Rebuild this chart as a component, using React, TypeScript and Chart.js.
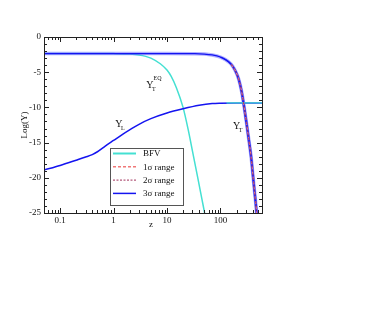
import React, { useEffect, useRef } from 'react';
import { Chart, registerables } from 'chart.js';

Chart.register(...registerables);

// ---------- data ----------
const xMajorTicks = [0.1, 1, 10, 100];
const xMinorTicks = [0.05, 0.06, 0.07, 0.08, 0.09, 0.2, 0.3, 0.4, 0.5, 0.6, 0.7, 0.8, 0.9, 2, 3, 4, 5, 6, 7, 8, 9, 20, 30, 40, 50, 60, 70, 80, 90, 200, 300, 400, 500, 600];
const yMajorTicks = [0, -5, -10, -15, -20, -25];
const yMinorTicks = [-1, -2, -3, -4, -6, -7, -8, -9, -11, -12, -13, -14, -16, -17, -18, -19, -21, -22, -23, -24];

// Y_T^EQ (BFV, cyan)
const zEq = [0.05, 0.5, 1, 2, 3, 4, 5, 7.5, 10, 12, 15, 20, 25, 30, 37, 45, 50, 55];
const yEq = [-2.35, -2.35, -2.36, -2.42, -2.55, -2.75, -3.0, -3.8, -4.7, -5.6, -7.2, -10.0, -13.2, -16.2, -19.7, -23.0, -24.8, -26.6];

// Y_T (central)
const zT = [0.05, 1, 10, 30, 50, 70, 100, 130, 160, 190, 220, 250, 280, 310, 340, 375, 420, 470, 500];
const yT = [-2.35, -2.35, -2.35, -2.37, -2.42, -2.55, -2.85, -3.3, -3.9, -4.8, -6.0, -7.8, -10.1, -12.4, -14.6, -17.0, -20.8, -24.5, -27];

// Y_T 3 sigma edges (steep part)
const zT3lo = [97, 126, 155, 184, 213, 242, 271, 300, 329, 363, 407, 455, 485];
const zT3hi = [103, 134, 165, 196, 227, 258, 289, 320, 351, 387, 433, 485, 515];
const yT3 = [-2.85, -3.3, -3.9, -4.8, -6.0, -7.8, -10.1, -12.4, -14.6, -17.0, -20.8, -24.5, -27];

// 1 sigma / 2 sigma (dashed, steep part)
const zSig = [160, 190, 220, 250, 280, 310, 340, 375, 420, 470, 500];
const ySig1 = [-3.9, -4.8, -6.0, -7.8, -10.1, -12.4, -14.6, -17.0, -20.8, -24.5, -27];
const ySig2 = [-3.9, -4.8, -6.0, -7.8, -10.1, -12.4, -14.6, -17.0, -20.8, -24.5, -27];

// Y_L
const zL = [0.05, 0.1, 0.2, 0.3, 0.4, 0.5, 0.7, 1, 1.5, 2, 3, 5, 10, 20, 40, 70, 100, 200, 600];
const yL = [-18.9, -18.25, -17.5, -17.05, -16.7, -16.3, -15.5, -14.7, -13.8, -13.2, -12.4, -11.6, -10.8, -10.2, -9.7, -9.45, -9.4, -9.38, -9.38];
const zLbfv = [130, 200, 600];
const yLbfv = [-9.37, -9.37, -9.37];

const legendLabels = ['BFV', '1σ range', '2σ range', '3σ range'];

// ---------- styles ----------
const SERIF = "'Liberation Serif', 'DejaVu Serif', serif";
const CYAN = '#44e0d2';
const BLUE = '#1414f0';
const BAND = 'rgba(110,110,255,0.55)';
const RED1 = '#f07878';
const RED2 = '#a0305a';

const pts = (xs: number[], ys: number[]) => xs.map((x, i) => ({ x, y: ys[i] }));

const line = (data: any, color: string, width: number, extra: any = {}) => ({
  data,
  borderColor: color,
  backgroundColor: color,
  borderWidth: width,
  pointRadius: 0,
  showLine: true,
  fill: false,
  cubicInterpolationMode: 'monotone',
  ...extra,
});

const decorPlugin = {
  id: 'decor',
  afterDraw(chart: any) {
    const { ctx, chartArea } = chart;
    const { left, right, top, bottom } = chartArea;
    const xs = chart.scales.x;
    const ys = chart.scales.y;
    ctx.save();
    ctx.strokeStyle = '#222';
    ctx.lineWidth = 1;
    // frame
    ctx.strokeRect(Math.round(left) + 0.5, Math.round(top) + 0.5, Math.round(right - left), Math.round(bottom - top));
    const tickX = (v: number, len: number) => {
      const p = Math.round(xs.getPixelForValue(v)) + 0.5;
      ctx.beginPath();
      ctx.moveTo(p, bottom);
      ctx.lineTo(p, bottom - len);
      ctx.moveTo(p, top);
      ctx.lineTo(p, top + len);
      ctx.stroke();
    };
    const tickY = (v: number, len: number) => {
      const p = Math.round(ys.getPixelForValue(v)) + 0.5;
      ctx.beginPath();
      ctx.moveTo(left, p);
      ctx.lineTo(left + len, p);
      ctx.moveTo(right, p);
      ctx.lineTo(right - len, p);
      ctx.stroke();
    };
    xMajorTicks.forEach((v) => tickX(v, 5));
    xMinorTicks.forEach((v) => tickX(v, 3));
    yMajorTicks.forEach((v) => tickY(v, 5));
    yMinorTicks.forEach((v) => tickY(v, 3));

    // axis titles
    ctx.fillStyle = '#111';
    ctx.font = `9px ${SERIF}`;
    ctx.textAlign = 'center';
    ctx.textBaseline = 'middle';
    ctx.fillText('z', (left + right) / 2 - 2, bottom + 12);
    ctx.save();
    ctx.translate(left - 19, (top + bottom) / 2);
    ctx.rotate(-Math.PI / 2);
    ctx.fillText('Log(Y)', 0, 0);
    ctx.restore();

    // curve labels
    const label = (zv: number, yv: number, main: string, sub: string, sup?: string) => {
      const px = xs.getPixelForValue(zv);
      const py = ys.getPixelForValue(yv);
      ctx.textAlign = 'left';
      ctx.textBaseline = 'alphabetic';
      ctx.font = `10px ${SERIF}`;
      ctx.fillText(main, px, py);
      const w = ctx.measureText(main).width;
      ctx.font = `6px ${SERIF}`;
      ctx.fillText(sub, px + w - 1.5, py + 3);
      if (sup) ctx.fillText(sup, px + w, py - 8);
    };
    label(4.1, -7.2, 'Y', 'T', 'EQ');
    label(1.08, -12.85, 'Y', 'L');
    label(172, -13.0, 'Y', 'T');

    // legend
    const bx = left + 66;
    const by = top + 111;
    const bw = 73;
    const bh = 57;
    ctx.fillStyle = '#fff';
    ctx.fillRect(bx, by, bw, bh);
    ctx.strokeStyle = '#555';
    ctx.lineWidth = 1;
    ctx.strokeRect(Math.round(bx) + 0.5, Math.round(by) + 0.5, bw, bh);
    const styles = [
      { c: CYAN, w: 2, d: [] as number[] },
      { c: RED1, w: 1.5, d: [3, 2] },
      { c: RED2, w: 1, d: [2, 1.5] },
      { c: BLUE, w: 1.5, d: [] as number[] },
    ];
    legendLabels.forEach((t, i) => {
      const yy = by + 5.5 + i * 13.3;
      ctx.beginPath();
      ctx.setLineDash(styles[i].d);
      ctx.strokeStyle = styles[i].c;
      ctx.lineWidth = styles[i].w;
      ctx.moveTo(bx + 3, yy);
      ctx.lineTo(bx + 26, yy);
      ctx.stroke();
      ctx.setLineDash([]);
      ctx.fillStyle = '#111';
      ctx.font = `9px ${SERIF}`;
      ctx.textAlign = 'left';
      ctx.textBaseline = 'middle';
      ctx.fillText(t, bx + 33, yy + 0.5);
    });
    ctx.restore();
  },
};

export default function App() {
  const ref = useRef<HTMLCanvasElement | null>(null);
  useEffect(() => {
    if (!ref.current) return;
    const datasets: any[] = [
      line(pts(zEq, yEq), CYAN, 1.5),
      line(pts(zT, yT), BAND, 3.5),
      line(pts(zT, yT), BLUE, 1.2),
      line(pts(zT3lo, yT3), BLUE, 0.8),
      line(pts(zT3hi, yT3), BLUE, 0.8),
      line(pts(zL, yL), BLUE, 1.5),
      line(pts(zLbfv, yLbfv), CYAN, 1.2),
      line(pts(zSig, ySig1), RED1, 1.2, { borderDash: [3, 2] }),
      line(pts(zSig, ySig2), RED2, 0.8, { borderDash: [2, 2] }),
    ];
    // later entries drawn on top
    datasets.forEach((d, i) => (d.order = datasets.length - i));
    const chart = new Chart(ref.current, {
      type: 'scatter',
      data: { datasets },
      options: {
        responsive: false,
        animation: false,
        devicePixelRatio: 1,
        layout: { padding: { left: 14, top: 37, right: 126, bottom: 99 } },
        plugins: { legend: { display: false }, tooltip: { enabled: false } },
        scales: {
          x: {
            type: 'logarithmic',
            min: 0.05,
            max: 600,
            grid: { display: false, drawTicks: false },
            border: { display: false },
            afterBuildTicks: (s: any) => {
              s.ticks = xMajorTicks.map((v) => ({ value: v }));
            },
            afterFit: (s: any) => {
              s.height = 20;
            },
            ticks: {
              autoSkip: false,
              maxRotation: 0,
              padding: 2,
              color: '#111',
              font: { family: SERIF, size: 9 },
              callback: (v: any) => String(v),
            },
          },
          y: {
            min: -25,
            max: 0,
            grid: { display: false, drawTicks: false },
            border: { display: false },
            afterBuildTicks: (s: any) => {
              s.ticks = yMajorTicks.map((v) => ({ value: v }));
            },
            afterFit: (s: any) => {
              s.width = 30;
            },
            ticks: {
              padding: 3,
              color: '#111',
              font: { family: SERIF, size: 9 },
              callback: (v: any) => String(v),
            },
          },
        },
      },
      plugins: [decorPlugin],
    } as any);
    return () => chart.destroy();
  }, []);
  return (
    <div style={{ position: 'fixed', left: 0, top: 0, width: 388, height: 332, background: '#fff' }}>
      <canvas ref={ref} width={388} height={332} style={{ width: 388, height: 332, display: 'block' }} />
    </div>
  );
}
